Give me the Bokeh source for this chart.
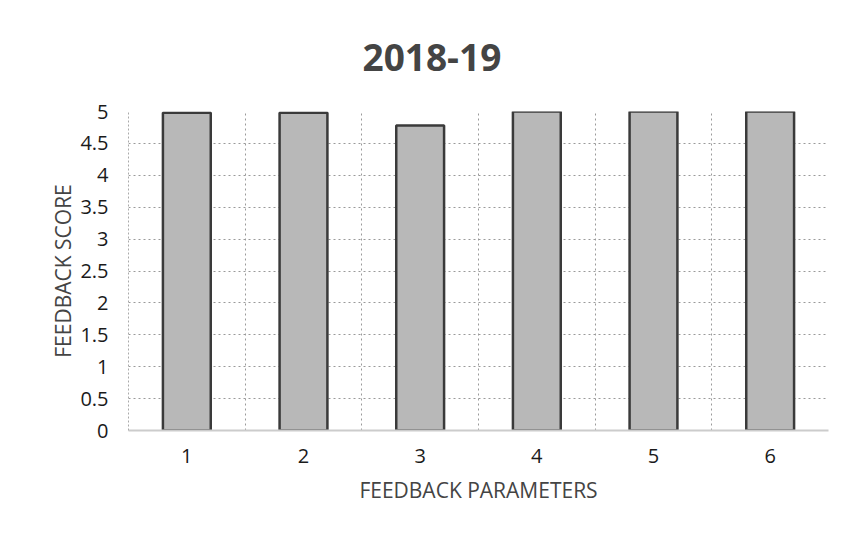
from bokeh.plotting import figure
from bokeh.models import ColumnDataSource, FixedTicker, Range1d
from bokeh.embed import file_html
from bokeh.resources import INLINE

categories = [1, 2, 3, 4, 5, 6]
scores = [4.98, 4.98, 4.78, 5.0, 5.0, 5.0]
y_ticks = [0, 0.5, 1, 1.5, 2, 2.5, 3, 3.5, 4, 4.5, 5]
x_bounds = [0.5, 1.5, 2.5, 3.5, 4.5, 5.5, 6.5]

src = ColumnDataSource(dict(cat=categories, score=scores))

p = figure(width=829, height=517, x_range=Range1d(0.5, 6.5), y_range=Range1d(0, 5.0),
           output_backend="svg", toolbar_location=None,
           min_border_left=128, min_border_right=1, min_border_top=33, min_border_bottom=87)

p.vbar(x="cat", top="score", width=0.41, source=src,
       fill_color="#b8b8b8", line_color="#3a3a3a", line_width=2.5)

p.title.text = "2018-19"
p.title.align = "left"
p.title.text_font = "Open Sans"
p.title.text_font_size = "37px"
p.title.text_font_style = "bold"
p.title.text_color = "#444444"
p.title.standoff = 82
p.title.offset = 234

p.xaxis.ticker = FixedTicker(ticks=categories)
p.yaxis.ticker = FixedTicker(ticks=y_ticks)
p.yaxis.major_label_overrides = {0: "0", 1: "1", 2: "2", 3: "3", 4: "4", 5: "5"}
for ax in (p.xaxis, p.yaxis):
    ax.major_label_text_font = "Open Sans"
    ax.major_label_text_font_size = "20px"
    ax.major_label_text_color = "#1a1a1a"
    ax.axis_label_text_font = "Open Sans"
    ax.axis_label_text_font_size = "21px"
    ax.axis_label_text_font_style = "normal"
    ax.axis_label_text_color = "#444444"
    ax.major_tick_line_color = None
    ax.minor_tick_line_color = None

p.yaxis.axis_label = "FEEDBACK SCORE"
p.xaxis.axis_label = "FEEDBACK PARAMETERS"
p.yaxis.axis_line_color = "#aaaaaa"
p.yaxis.axis_line_dash = "2 2"
p.xaxis.axis_line_color = "#cccccc"
p.xaxis.axis_line_width = 2
p.xaxis.major_label_standoff = 12
p.xaxis.axis_label_standoff = 10
p.yaxis.major_label_standoff = 14
p.yaxis.axis_label_standoff = 0

p.ygrid.grid_line_color = "#9a9a9a"
p.ygrid.grid_line_dash = "2 3"
p.ygrid.grid_line_width = 1
p.xgrid.ticker = FixedTicker(ticks=x_bounds)
p.xgrid.grid_line_color = "#9a9a9a"
p.xgrid.grid_line_dash = "2 3"
p.xgrid.grid_line_width = 1

p.outline_line_color = None
p.background_fill_color = "white"
p.border_fill_color = "white"

open("out.html", "w").write(file_html(p, INLINE))
